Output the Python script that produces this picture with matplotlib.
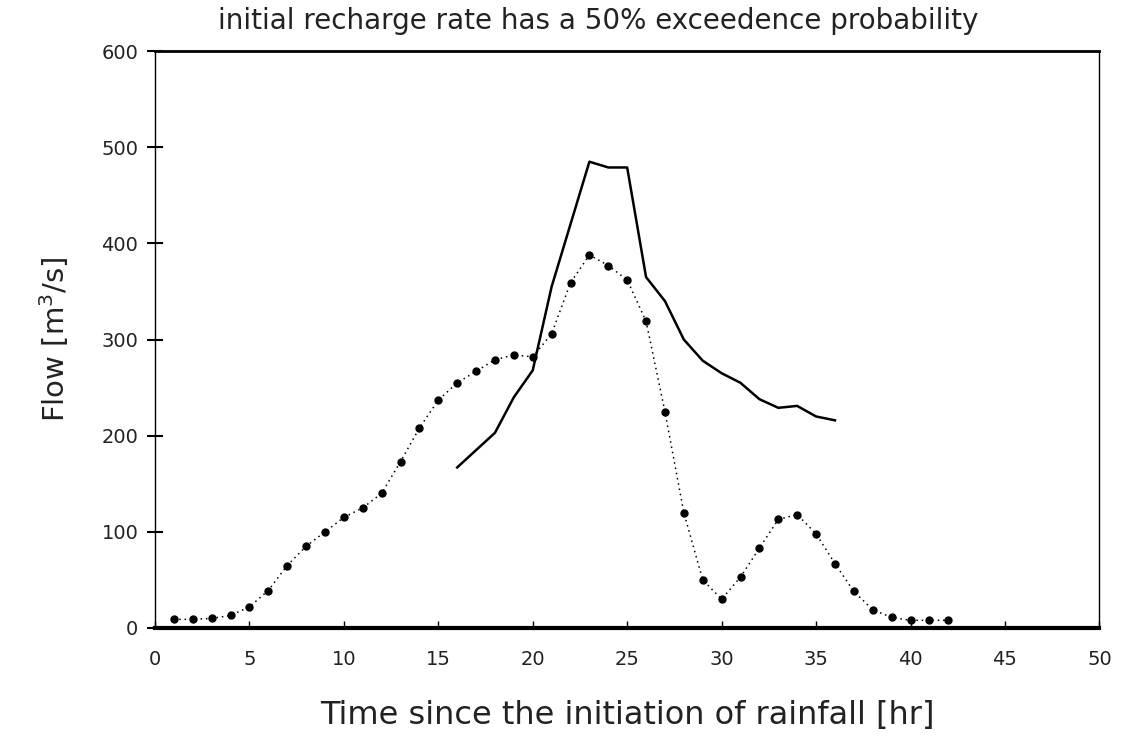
import matplotlib
matplotlib.use("Agg")
import matplotlib.pyplot as plt

# dotted series (hourly, markers)
hours_dot = list(range(1, 43))
flow_dot = [9, 9, 10, 13, 22, 39, 65, 85, 100, 115,
            125, 140, 173, 208, 237, 255, 267, 279, 284, 282,
            306, 359, 388, 377, 362, 319, 225, 120, 50, 30,
            53, 83, 113, 118, 98, 67, 38, 19, 11, 8,
            8, 8]

# solid series
hours_line = list(range(16, 37))
flow_line = [167, 185, 203, 240, 268, 355, 420, 485, 479, 479,
             365, 340, 300, 278, 265, 255, 238, 229, 231, 220, 216]

x_ticks = list(range(0, 51, 5))
y_ticks = list(range(0, 601, 100))

plt.rcParams['font.family'] = ['DejaVu Sans']

fig = plt.figure(figsize=(11.27, 7.41), dpi=100)
ax = fig.add_axes([0.1375, 0.1525, 0.838, 0.7785])

ax.plot(hours_line, flow_line, color='black', lw=1.8, solid_joinstyle='round')
ax.plot(hours_dot, flow_dot, color='black', lw=1.1, ls=(0, (1, 2.5)),
        marker='o', ms=5, mfc='black', mec='black')

ax.set_xlim(0, 50)
ax.set_ylim(0, 600)
ax.set_xticks(x_ticks)
ax.set_yticks(y_ticks)
ax.tick_params(axis='y', direction='inout', length=12, width=1.5, labelsize=14,
               pad=6, labelcolor='#222222')
ax.tick_params(axis='x', direction='in', length=5, width=1, labelsize=14,
               pad=16, labelcolor='#222222')

ax.spines['bottom'].set_linewidth(3)
ax.spines['top'].set_linewidth(2)
ax.spines['left'].set_linewidth(1)
ax.spines['right'].set_linewidth(1)

ax.set_xlabel('Time since the initiation of rainfall [hr]', fontsize=23, labelpad=22,
              color='#222222')
ax.set_ylabel('Flow [m$^3$/s]', fontsize=21, labelpad=22, color='#222222')

fig.text(0.193, 0.99, 'initial recharge rate has a 50% exceedence probability',
         fontsize=20, ha='left', va='top', color='#222222')

fig.savefig('out.png', dpi=100)
